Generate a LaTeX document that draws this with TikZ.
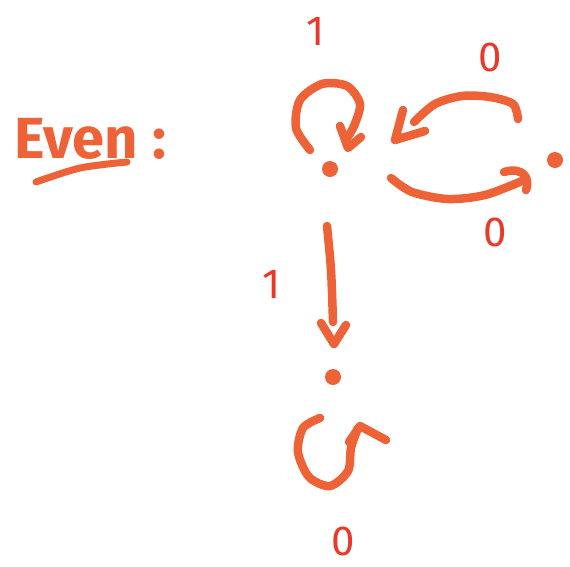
\documentclass[tikz,border=0pt]{standalone}
\usepackage{fontspec}
\setmainfont{Fira Sans}
\definecolor{ink}{HTML}{EE6238}
\definecolor{lab}{HTML}{E8392B}
\tikzset{
  stroke/.style={draw=ink,line width=8.5pt,line cap=round,line join=round},
  dotst/.style={circle,fill=ink,inner sep=0pt,minimum size=16pt},
  lbl/.style={text=lab,font=\fontsize{42}{42}\selectfont,inner sep=0pt}
}
\begin{document}
\begin{tikzpicture}[x=1pt,y=-1pt]
\useasboundingbox (0,0) rectangle (570,566);
% title
\node[text=ink,font=\fontsize{58}{58}\selectfont\bfseries,anchor=base west,inner sep=0pt] (title) at (14,158) {Even\hspace{14pt}:};
\draw[stroke,line width=7pt] plot[smooth] coordinates {(36,182) (80,168) (127,162)};
% states
\node[dotst] (q0) at (330,169) {};
\node[dotst] (q1) at (555,160) {};
\node[dotst] (q2) at (333,377) {};
% labels
\node[lbl] (l1) at (316,31) {1};
\node[lbl] (l2) at (490,57) {0};
\node[lbl] (l3) at (495,232) {0};
\node[lbl] (l4) at (272,284) {1};
\node[lbl] (l5) at (343,541) {0};
% self loop on q0
\draw[stroke] plot[smooth] coordinates {(310,150) (296,128) (300,100) (322,84) (347,86) (360,104) (354,126) (347,138)};
\draw[stroke] (340,126) -- (348,148) -- (361,137);
% q1 -> q0 (top)
\draw[stroke] plot[smooth] coordinates {(518,119) (513,104) (490,97) (462,96) (435,104) (414,122)};
\draw[stroke] (403,110) -- (395,140) -- (425,131);
% q0 -> q1 (bottom)
\draw[stroke] plot[smooth] coordinates {(391,178) (412,192) (448,199) (485,195) (522,181)};
\draw[stroke] (504,172) .. controls (525,166) and (530,180) .. (526,190);
% q0 -> q2
\draw[stroke] plot[smooth] coordinates {(327,226) (331,270) (333,322)};
\draw[stroke] (321,323) -- (334,344) -- (346,325);
% self loop on q2
\draw[stroke] plot[smooth] coordinates {(320,418) (303,428) (298,452) (309,477) (330,486) (348,471) (351,448) (358,428)};
\draw[stroke] (349,442) -- (360,426) -- (386,440);
\end{tikzpicture}
\end{document}
